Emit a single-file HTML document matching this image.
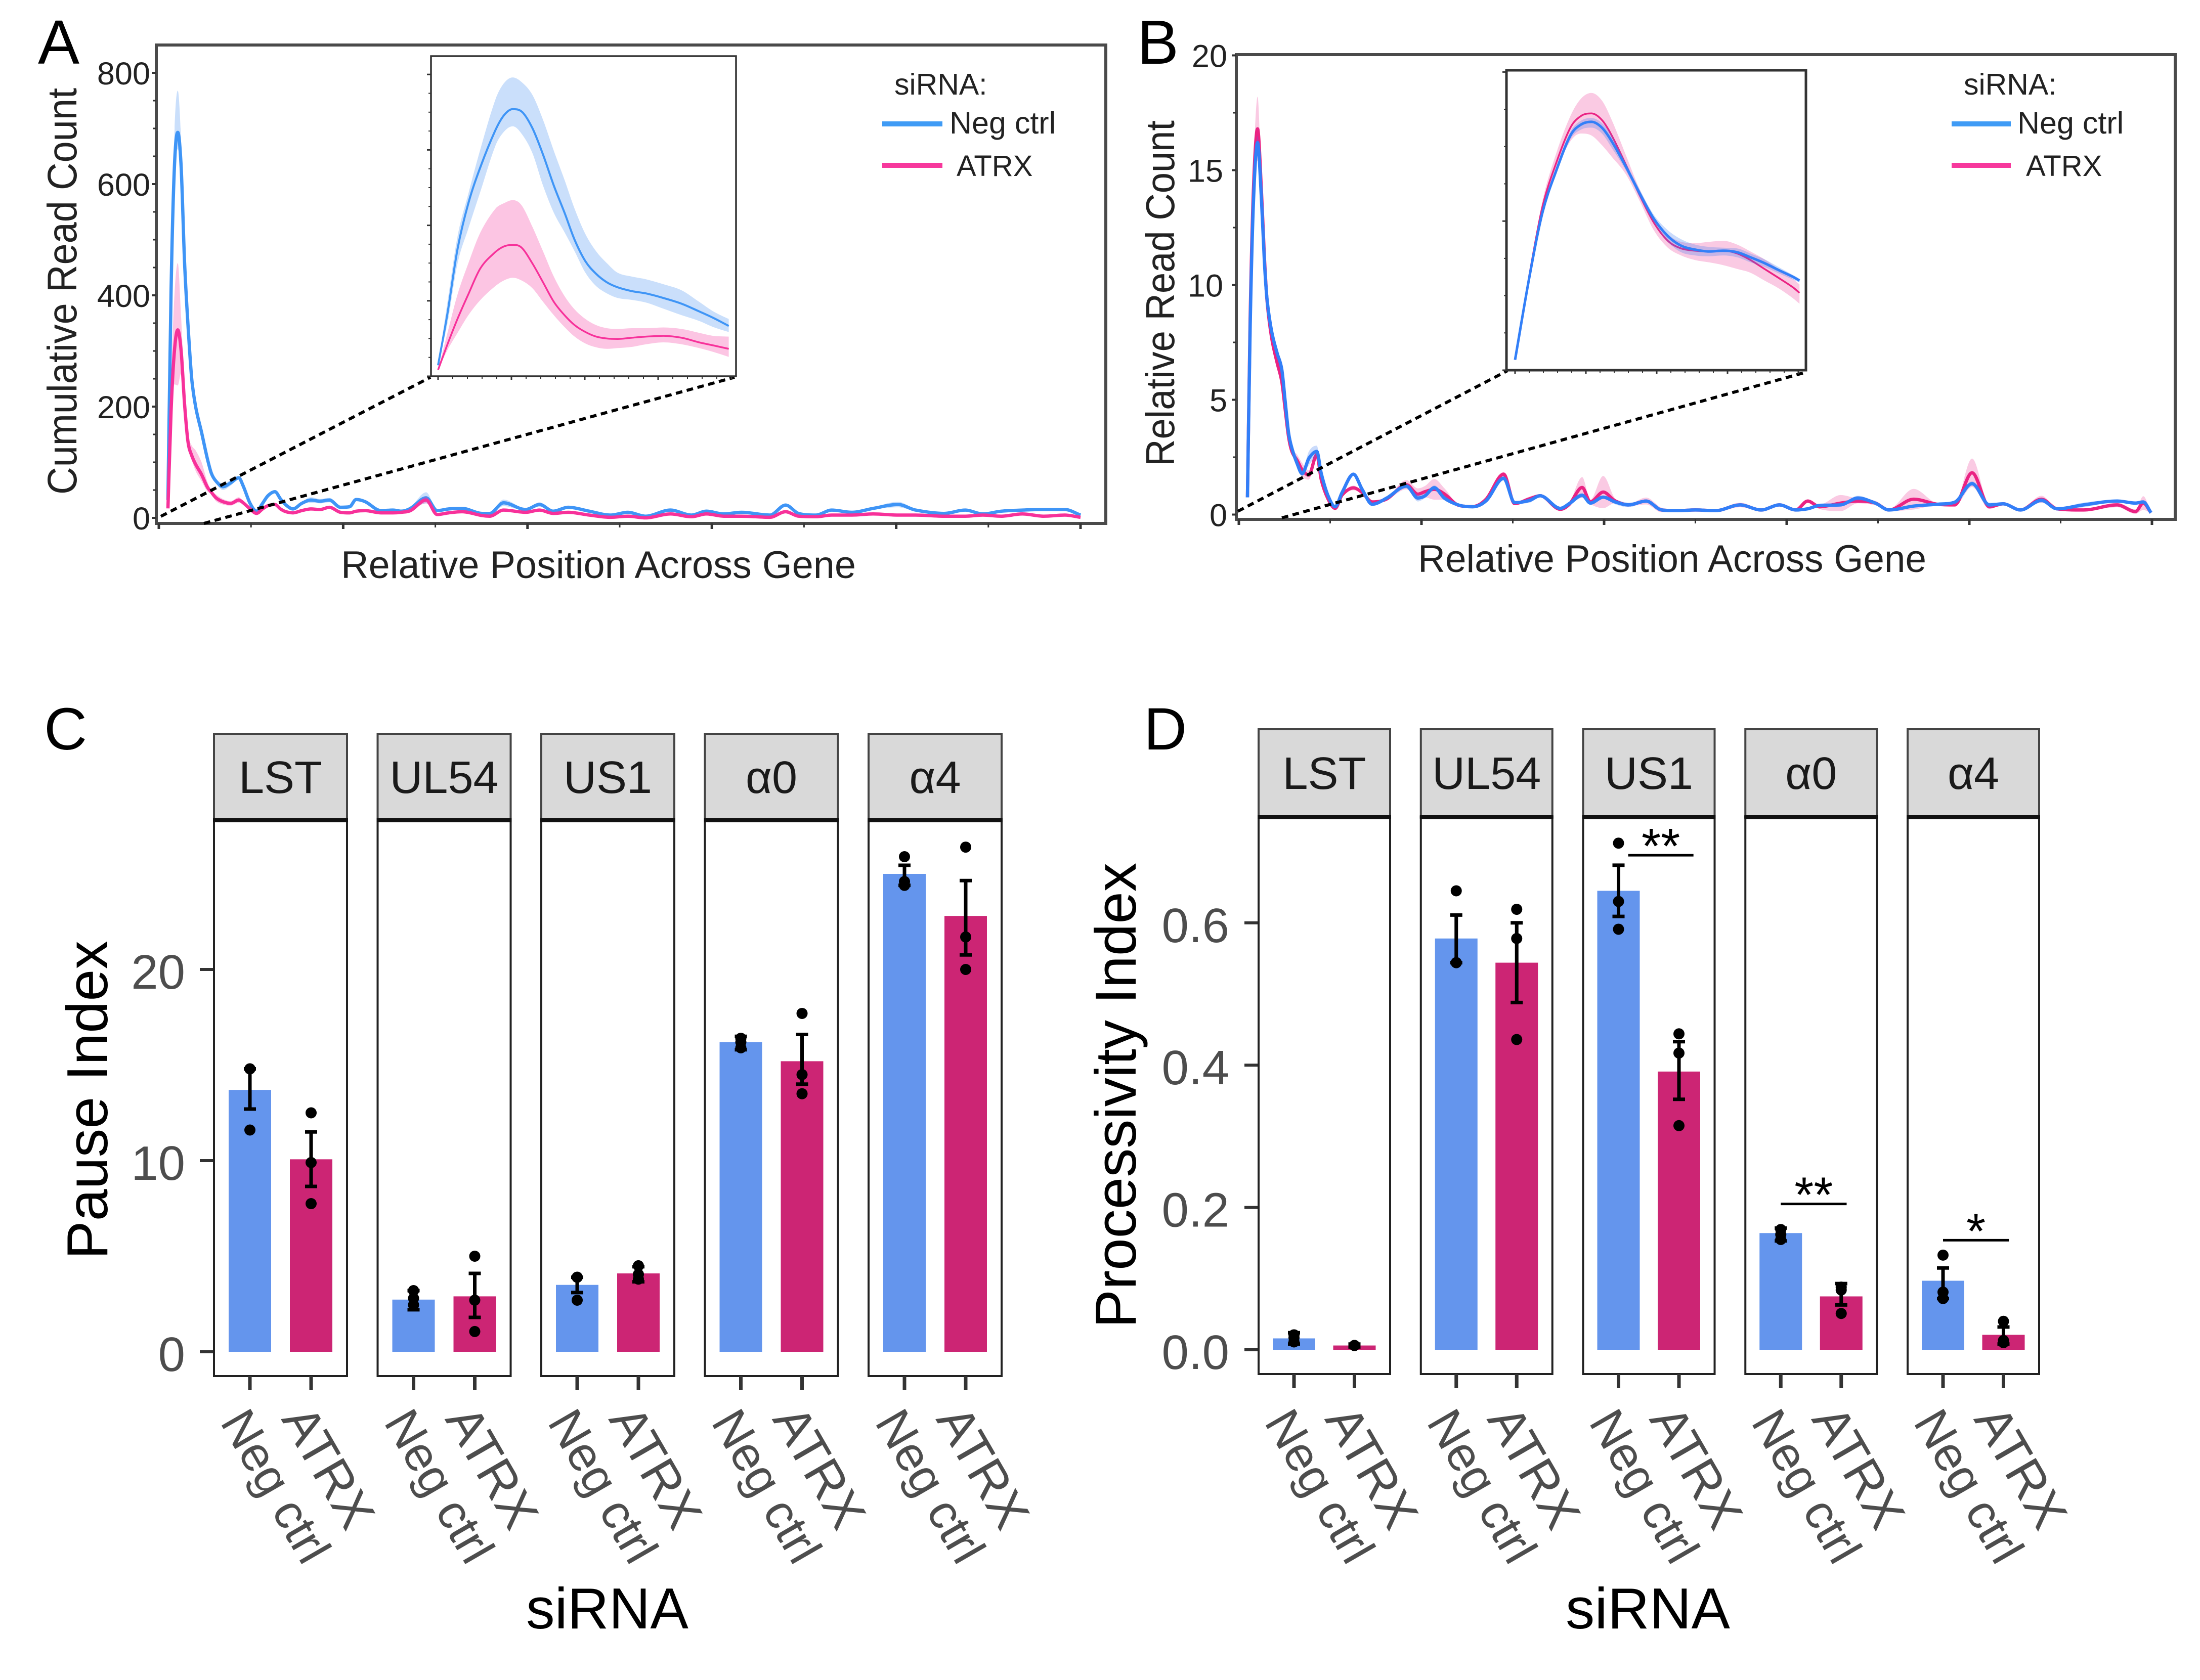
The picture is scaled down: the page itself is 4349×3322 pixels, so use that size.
<!DOCTYPE html>
<html lang="en">
<head>
<meta charset="utf-8">
<title>ATRX siRNA read count, pause index and processivity index</title>
<style>
html,body{margin:0;padding:0;background:#fff;}
svg{display:block;font-family:"Liberation Sans","DejaVu Sans",sans-serif;}
</style>
</head>
<body>
<svg id="figure" xmlns="http://www.w3.org/2000/svg" width="4349" height="3322" viewBox="0 0 4349 3322">
  <rect x="0" y="0" width="4349" height="3322" fill="#fff"/>

  <text x="75" y="126" font-size="123" fill="#000">A</text>
  <text x="2248" y="126" font-size="123" fill="#000">B</text>
  <text x="87" y="1482" font-size="118" fill="#000">C</text>
  <text x="2261" y="1482" font-size="118" fill="#000">D</text>

  <text transform="translate(151,576) rotate(-90)" text-anchor="middle" font-size="82" fill="#222" textLength="804" lengthAdjust="spacingAndGlyphs">Cumulative Read Count</text>
  <text x="674" y="1143" font-size="76" fill="#222" textLength="1018" lengthAdjust="spacingAndGlyphs">Relative Position Across Gene</text>
  <text transform="translate(2321,580) rotate(-90)" text-anchor="middle" font-size="80" fill="#222" textLength="684" lengthAdjust="spacingAndGlyphs">Relative Read Count</text>
  <text x="2803" y="1131" font-size="76" fill="#222" textLength="1005" lengthAdjust="spacingAndGlyphs">Relative Position Across Gene</text>

  <g>
    <text x="1768" y="187" font-size="59" fill="#222">siRNA:</text>
    <line x1="1744" y1="245" x2="1863" y2="245" stroke="#3f9bf5" stroke-width="10"/>
    <text x="1877" y="264" font-size="61" fill="#222">Neg ctrl</text>
    <line x1="1744" y1="327" x2="1863" y2="327" stroke="#f7389c" stroke-width="10"/>
    <text x="1891" y="348" font-size="58" fill="#222">ATRX</text>
  </g>
  <g>
    <text x="3882" y="187" font-size="59" fill="#222">siRNA:</text>
    <line x1="3858" y1="245" x2="3975" y2="245" stroke="#3f9bf5" stroke-width="10"/>
    <text x="3988" y="264" font-size="61" fill="#222">Neg ctrl</text>
    <line x1="3858" y1="327" x2="3975" y2="327" stroke="#f7389c" stroke-width="10"/>
    <text x="4005" y="348" font-size="58" fill="#222">ATRX</text>
  </g>

  <text transform="translate(212,2175) rotate(-90)" text-anchor="middle" font-size="114" fill="#000" textLength="630" lengthAdjust="spacingAndGlyphs">Pause Index</text>
  <text x="1040" y="3220" font-size="114" fill="#000" textLength="321" lengthAdjust="spacingAndGlyphs">siRNA</text>
  <text transform="translate(2245,2166) rotate(-90)" text-anchor="middle" font-size="114" fill="#000" textLength="920" lengthAdjust="spacingAndGlyphs">Processivity Index</text>
  <text x="3095" y="3220" font-size="114" fill="#000" textLength="325" lengthAdjust="spacingAndGlyphs">siRNA</text>
</svg>

<script>
/* ---------- Panel A data (x = % of gene, y = read count) ---------- */
/* inset curves */
const aHeadX = [0.90,1.04,1.19,1.35,1.53,1.75,1.88,2.01,2.14,2.30,2.46,2.62,2.78,2.93,3.09,3.25,3.41,3.57,3.78,3.99,4.25,4.52,4.78,4.99,5.22];
const aNegHead = [30,166,335,454,549,644,684,700,694,651,581,500,429,358,302,269,247,234,224,218,206,191,171,154,133];
const aNegHeadUpper = [30,196,368,479,596,724,768,783,771,738,672,591,515,439,373,328,297,272,262,255,242,226,196,171,151];
const aNegHeadLower = [30,140,297,388,485,603,641,655,636,586,500,429,378,328,272,237,218,206,201,194,178,161,146,130,117];
const aAtrxHead = [18,85,152,216,284,326,341,345,338,297,247,196,161,135,117,105,100,99,102,105,107,102,90,82,73];
const aAtrxHeadUpper = [18,115,216,297,378,439,454,462,449,393,328,262,211,176,151,135,127,125,127,127,129,125,115,107,105];
const aAtrxHeadLower = [18,70,115,161,201,237,252,259,252,232,196,161,130,105,87,77,73,75,78,85,90,85,75,65,52];
/* main-axis peak */
const aPeakX = [0.99,1.32,1.69,2.05,2.42,2.79,3.16,3.57,4.0,4.63,5.24];
const aNegPeak = [32,404,631,693,631,460,347,250,199,154,108];
const aNegPeakUpper = [32,424,691,768,676,475,352,255,204,159,113];
const aNegPeakLower = [32,384,601,663,606,450,342,245,194,149,103];
const aAtrxPeak = [17,190,300,338,300,205,137,112,96,78,56];
const aAtrxPeakUpper = [17,240,400,458,360,230,152,130,121,100,66];
const aAtrxPeakLower = [17,150,240,238,260,190,129,104,84,66,48];
/* rest of gene */
const aTailX = [5.7,6.2,6.95,7.8,8.67,9.16,9.9,10.6,11.25,11.85,12.6,13.2,13.8,14.55,15.5,16.5,17.5,18.5,19.7,20.7,21.4,22.4,24.1,25.4,26.3,27.3,29,30.2,31.45,32.9,35.1,35.9,37.4,39.8,41.3,42.8,44.4,46.7,49,50.9,52.8,55.5,57.8,59.4,61.3,63.2,66.3,68,69.4,71.3,73,75.2,77.5,80.2,82.1,85.2,87.5,89.4,91.4,93.7,96,98.3,100];
const aNegTail = [80,66,56,63,72,57,26,12,26,40,47,34,23,16,26,32,30,32,19,20,33,29,13,14,12,17,36,13,16,17,8,8,27,15,24,12,19,12,5,10,3,14,5,12,7,10,5,23,8,5,14,10,17,24,14,8,14,7,12,14,15,15,5];
const aAtrxTail = [46,36,29,26,32,27,16,8,16,22,24,16,11,9,13,16,15,19,10,9,12,13,9,9,10,13,32,6,9,11,4,3,14,10,14,8,10,5,1,3,0,7,2,7,3,3,1,11,3,2,5,5,7,5,5,3,3,5,3,7,3,5,1];
const aNegTailErr = [3,4,6,5,3,2,1,1,2,3,3,2,1,1,2,5,4,4,3,2,2,2,1,1,1,2,10,2,2,2,1,1,6,2,4,2,3,2,1,2,1,3,1,2,1,2,1,3,1,1,2,1,2,5,2,1,2,1,1,1,2,2,1];
const aAtrxTailErr = [3,6,5,4,5,2,1,1,1,1,1,1,1,1,1,1,1,2,1,1,1,1,1,1,1,1,6,1,1,1,1,1,2,1,2,1,1,1,1,1,1,2,1,1,1,1,1,2,1,1,1,1,1,1,1,1,1,1,1,1,1,1,1];
const aYTickLabels = ['0','200','400','600','800'];
const aYMinorTicks = [50,100,150,250,300,350,450,500,550,650,700,750];

/* ---------- Panel B data (x = % of gene, y = relative read count) ---------- */
/* inset curves */
const bHeadX = [0.94,1.14,1.33,1.53,1.73,1.88,2.03,2.18,2.32,2.52,2.72,2.92,3.12,3.31,3.51,3.71,3.91,4.11,4.30,4.50,4.70,4.90,5.0];
const bNegHead = [0.71,6.0,10.3,13.08,15.35,16.06,16.24,15.86,14.97,13.33,11.56,9.92,8.79,8.16,7.9,7.78,7.83,7.73,7.4,7.02,6.57,6.14,5.88];
const bNegHeadUpper = [0.71,6.06,10.43,13.33,15.6,16.31,16.49,16.16,15.35,13.59,11.82,10.18,9.17,8.58,8.23,8.08,8.03,7.98,7.65,7.27,6.77,6.26,6.01];
const bNegHeadLower = [0.71,5.96,10.18,12.83,15.1,15.73,15.86,15.48,14.54,13.08,11.31,9.67,8.41,7.73,7.52,7.47,7.52,7.40,7.07,6.77,6.36,5.96,5.76];
const bAtrxHead = [0.71,6.14,10.68,13.59,15.86,16.62,16.79,16.36,15.35,13.46,11.44,9.67,8.48,7.98,7.83,7.78,7.83,7.65,7.22,6.64,6.06,5.46,5.08];
const bAtrxHeadUpper = [0.71,6.26,11.06,14.22,16.62,17.75,18.13,17.63,16.36,14.09,11.82,10.05,8.91,8.41,8.33,8.41,8.48,8.23,7.78,7.27,6.64,6.01,5.63];
const bAtrxHeadLower = [0.71,5.88,10.30,13.08,14.97,15.48,15.35,14.72,13.96,12.83,11.06,9.17,8.03,7.52,7.22,7.07,6.89,6.64,6.39,5.88,5.38,4.75,4.37];
/* main-axis peak */
const bPeakX = [0.94,1.24,1.61,2.05,2.47,2.8,3.09,3.59,4.2,4.7,5.07,5.44];
const bNegPeak = [0.75,8.26,13.76,16.2,13.76,11.0,9.36,7.98,7.02,6.33,4.95,3.57];
const bNegPeakUpper = [0.75,8.36,13.96,16.5,13.96,11.1,9.46,8.08,7.12,6.43,5.05,3.67];
const bNegPeakLower = [0.75,8.16,13.56,15.9,13.56,10.9,9.26,7.88,6.92,6.23,4.85,3.47];
const bAtrxPeak = [0.75,8.6,14.3,16.8,14.1,11.2,9.3,7.7,6.6,5.8,4.6,3.4];
const bAtrxPeakUpper = [0.75,8.9,15.1,18.2,14.5,11.5,9.5,7.9,6.75,5.95,4.75,3.55];
const bAtrxPeakLower = [0.75,8.3,13.8,15.4,13.7,10.9,9.1,7.5,6.45,5.65,4.45,3.25];
/* rest of gene */
const bTailX = [5.81,6.4,6.93,7.67,8.53,9.03,9.77,10.55,11.3,12.55,13.5,14.6,16.2,18.35,19.6,20.4,21.4,22.5,24.1,25.6,27.1,29,30.2,31.8,33,35.2,36.2,37.6,38.5,39.9,41.2,42.7,44.6,46.3,48,50,52.2,54.9,57.2,59.2,61,62.3,63.6,65.9,67.8,69.7,71.2,73.9,76.5,78.4,80.3,82.2,83.7,85.6,87.9,89.6,92.5,96.2,98.2,99.05,99.9];
const bNegTail = [2.89,2.2,1.78,2.45,2.75,1.78,0.82,0.34,0.96,1.76,1.1,0.45,0.72,1.24,0.72,0.82,1.17,0.72,0.41,0.34,0.61,1.58,0.52,0.61,0.82,0.27,0.48,0.84,0.5,0.76,0.55,0.42,0.59,0.2,0.17,0.2,0.17,0.42,0.2,0.42,0.2,0.25,0.4,0.42,0.72,0.5,0.2,0.37,0.45,0.54,1.35,0.42,0.47,0.2,0.62,0.25,0.42,0.59,0.5,0.55,0.08];
const bAtrxTail = [2.75,2.35,1.95,1.72,2.61,1.51,0.68,0.27,0.85,1.16,0.96,0.55,0.68,1.3,0.89,1.0,1.1,0.9,0.4,0.35,0.68,1.76,0.48,0.68,0.82,0.23,0.45,1.18,0.55,0.98,0.6,0.42,0.59,0.2,0.17,0.2,0.17,0.42,0.2,0.42,0.2,0.59,0.34,0.5,0.59,0.5,0.2,0.67,0.45,0.42,1.82,0.34,0.47,0.2,0.67,0.25,0.2,0.42,0.13,0.5,0.08];
const bNegTailErr = [0.1,0.15,0.1,0.3,0.25,0.1,0.05,0.05,0.05,0.05,0.05,0.05,0.05,0.1,0.15,0.1,0.1,0.1,0.05,0.05,0.05,0.1,0.05,0.1,0.05,0.05,0.1,0.1,0.05,0.05,0.1,0.1,0.05,0.05,0.05,0.05,0.05,0.05,0.05,0.05,0.05,0.05,0.05,0.05,0.1,0.05,0.05,0.05,0.05,0.05,0.1,0.1,0.05,0.05,0.1,0.05,0.1,0.05,0.05,0.05,0.02];
const bAtrxTailErr = [0.15,0.25,0.3,0.2,0.1,0.1,0.05,0.05,0.05,0.1,0.05,0.05,0.05,0.2,0.25,0.25,0.45,0.25,0.05,0.05,0.05,0.1,0.05,0.1,0.05,0.05,0.05,0.45,0.1,0.7,0.1,0.05,0.15,0.1,0.05,0.05,0.05,0.1,0.05,0.05,0.05,0.05,0.1,0.35,0.1,0.1,0.05,0.45,0.05,0.05,0.62,0.1,0.05,0.05,0.15,0.05,0.05,0.1,0.1,0.3,0.02];
const bYTickLabels = ['0','5','10','15','20'];
const bYMinorTicks = [2.5,7.5,12.5,17.5];

/* ---------- Panels C and D data ---------- */
const geneNames = ['LST','UL54','US1','α0','α4'];
const conditionNames = ['Neg ctrl','ATRX'];

const cYTickLabels = ['0','10','20'];
const cNegValues = [13.7,2.73,3.5,16.2,25.0];
const cAtrxValues = [10.07,2.9,4.1,15.2,22.8];
const cNegHigh = [14.8,3.2,3.9,16.5,25.45];
const cNegLow = [12.7,2.2,3.1,15.8,24.4];
const cAtrxHigh = [11.5,4.1,4.45,16.6,24.65];
const cAtrxLow = [8.65,1.8,3.66,14.0,20.76];
const cNegPoints = [[14.8,14.8,11.6],[3.2,2.8,2.45],[3.9,3.9,2.7],[16.4,16.2,15.9],[25.9,24.6,24.4]];
const cAtrxPoints = [[12.5,9.9,7.75],[5.0,2.7,1.06],[4.5,4.05,3.8],[17.7,14.5,13.5],[26.4,21.7,20.0]];

const dYTickLabels = ['0.0','0.2','0.4','0.6'];
const dNegValues = [0.016,0.578,0.645,0.164,0.097];
const dAtrxValues = [0.006,0.544,0.391,0.075,0.021];
const dNegHigh = [0.024,0.611,0.681,0.171,0.115];
const dNegLow = [0.008,0.544,0.609,0.153,0.072];
const dAtrxHigh = [0.008,0.60,0.433,0.093,0.032];
const dAtrxLow = [0.004,0.488,0.352,0.063,0.008];
const dNegPoints = [[0.021,0.017,0.011],[0.645,0.544,0.544],[0.712,0.63,0.591],[0.169,0.162,0.155],[0.133,0.081,0.072]];
const dAtrxPoints = [[0.006,0.006,0.006],[0.619,0.578,0.436],[0.444,0.417,0.315],[0.088,0.084,0.051],[0.04,0.013,0.01]];
const dSigFacets = [2,3,4];
const dSigLabels = ['**','**','*'];
const dSigLevels = [0.695,0.205,0.154];
const dSigFrom = [1.16,1,1];
const dSigTo = [2.24,2.09,2.09];

/* ---------- helpers ---------- */
const svg = document.getElementById('figure');
const NS = 'http://www.w3.org/2000/svg';
function mk(parent, tag, attrs, text) {
  const el = document.createElementNS(NS, tag);
  for (const k in attrs) el.setAttribute(k, attrs[k]);
  if (text !== undefined) el.textContent = text;
  parent.appendChild(el);
  return el;
}
function smooth(pts, cont) {
  const n = pts.length, s = [], m = [];
  for (let i = 0; i < n - 1; i++) {
    const h = pts[i + 1][0] - pts[i][0];
    s.push(h === 0 ? 0 : (pts[i + 1][1] - pts[i][1]) / h);
  }
  m[0] = s[0]; m[n - 1] = s[n - 2];
  for (let i = 1; i < n - 1; i++) {
    if (s[i - 1] * s[i] <= 0) { m[i] = 0; continue; }
    const central = (pts[i + 1][1] - pts[i - 1][1]) / (pts[i + 1][0] - pts[i - 1][0]);
    const limit = 3 * Math.min(Math.abs(s[i - 1]), Math.abs(s[i]));
    m[i] = Math.sign(central) * Math.min(Math.abs(central), limit);
  }
  let d = (cont ? 'L' : 'M') + pts[0][0].toFixed(1) + ' ' + pts[0][1].toFixed(1);
  for (let i = 0; i < n - 1; i++) {
    const h = pts[i + 1][0] - pts[i][0];
    d += 'C' + (pts[i][0] + h / 3).toFixed(1) + ' ' + (pts[i][1] + m[i] * h / 3).toFixed(1) + ' ' +
      (pts[i + 1][0] - h / 3).toFixed(1) + ' ' + (pts[i + 1][1] - m[i + 1] * h / 3).toFixed(1) + ' ' +
      pts[i + 1][0].toFixed(1) + ' ' + pts[i + 1][1].toFixed(1);
  }
  return d;
}
function drawTrace(g, name, sx, sy, xs, vals, up, lo, color, bandColor, bandOpacity, width) {
  const upper = xs.map((x, i) => [sx(x), sy(up[i])]);
  const lower = xs.map((x, i) => [sx(x), sy(lo[i])]).reverse();
  const band = mk(g, 'path', {d: smooth(upper) + smooth(lower, true) + 'Z', fill: bandColor, 'fill-opacity': bandOpacity, stroke: 'none'});
  
  
  const line = mk(g, 'path', {d: smooth(xs.map((x, i) => [sx(x), sy(vals[i])])), fill: 'none', stroke: color, 'stroke-width': width, 'stroke-linejoin': 'round'});
  
  
}
function plus(a, b) { return a.map((v, i) => v + b[i]); }
function minus(a, b) { return a.map((v, i) => v - b[i]); }

/* ---------- density panels ---------- */
function drawDensity(cfg) {
  const g = mk(svg, 'g', {});
  
  
  const sx = x => cfg.x0 + x * cfg.xk;
  const sy = v => cfg.y0 - v * cfg.yk;
  const frameMain = mk(g, 'rect', {x: cfg.left, y: cfg.top, width: cfg.right - cfg.left, height: cfg.bottom - cfg.top, fill: 'none', stroke: '#4a4a4a', 'stroke-width': 6});
  
  

  cfg.yLabels.forEach(lab => {
    const v = parseFloat(lab);
    const t = mk(g, 'line', {x1: cfg.left - 9, x2: cfg.left, y1: sy(v), y2: sy(v), stroke: '#333', 'stroke-width': 4});
    
    
    const l = mk(g, 'text', {x: cfg.labelRight - (lab.length === 2 && lab[0] === '1' ? 8 : 0), y: sy(v) + 23, 'text-anchor': 'end', 'font-size': 63, fill: '#222'}, lab);
    
    
  });
  cfg.yMinor.forEach(v => {
    const t = mk(g, 'line', {x1: cfg.left - 7, x2: cfg.left, y1: sy(v), y2: sy(v), stroke: '#333', 'stroke-width': 3});
    
    
  });
  for (let p = 0; p <= 100; p += 10) {
    const big = p % 20 === 0;
    const t = mk(g, 'line', {x1: sx(p), x2: sx(p), y1: cfg.bottom, y2: cfg.bottom + (big ? 11 : 8), stroke: '#333', 'stroke-width': big ? 5 : 3});
    
    
  }

  const xs = cfg.peakX.concat(cfg.tailX);
  const negV = cfg.negPeak.concat(cfg.negTail);
  const atrxV = cfg.atrxPeak.concat(cfg.atrxTail);
  const negU = cfg.negPeakU.concat(plus(cfg.negTail, cfg.negErr));
  const negL = cfg.negPeakL.concat(minus(cfg.negTail, cfg.negErr));
  const atrxU = cfg.atrxPeakU.concat(plus(cfg.atrxTail, cfg.atrxErr));
  const atrxL = cfg.atrxPeakL.concat(minus(cfg.atrxTail, cfg.atrxErr));
  if (cfg.negOnTop) {
    drawTrace(g, cfg.id + '-atrx', sx, sy, xs, atrxV, atrxU, atrxL, cfg.atrxColor, cfg.atrxBand, 0.27, cfg.mainWidth);
    drawTrace(g, cfg.id + '-neg-ctrl', sx, sy, xs, negV, negU, negL, cfg.negColor, cfg.negBand, 0.27, cfg.mainWidth);
  } else {
    drawTrace(g, cfg.id + '-neg-ctrl', sx, sy, xs, negV, negU, negL, cfg.negColor, cfg.negBand, 0.27, cfg.mainWidth);
    drawTrace(g, cfg.id + '-atrx', sx, sy, xs, atrxV, atrxU, atrxL, cfg.atrxColor, cfg.atrxBand, 0.27, cfg.mainWidth);
  }

  cfg.dotted.forEach(d => {
    const l = mk(g, 'line', {x1: d[0], y1: d[1], x2: d[2], y2: d[3], stroke: '#000', 'stroke-width': 6, 'stroke-dasharray': '13 9'});
    
    
  });

  /* inset */
  const ig = mk(g, 'g', {});
  
  
  const inset = cfg.inset;
  const bg = mk(ig, 'rect', {x: inset.left, y: inset.top, width: inset.right - inset.left, height: inset.bottom - inset.top, fill: '#fff', stroke: '#333', 'stroke-width': inset.frame});
  
  
  const ix = x => inset.px0 + (x - cfg.headX[0]) * inset.xk;
  const iy = v => inset.y0 - v * inset.yk;
  for (let i = 0; i < 21; i++) {
    const px = inset.px0 + i * inset.xStep;
    if (px > inset.right) break;
    const t = mk(ig, 'line', {x1: px, x2: px, y1: inset.bottom, y2: inset.bottom + (i % 5 === 0 ? 7 : 5), stroke: '#333', 'stroke-width': i % 5 === 0 ? 3 : 2});
    
    
  }
  for (let py = inset.bottom, i = 0; py >= inset.top; py -= inset.yStep, i++) {
    const t = mk(ig, 'line', {x1: inset.left - (i % 4 === 0 ? 8 : 5), x2: inset.left, y1: py, y2: py, stroke: '#333', 'stroke-width': i % 4 === 0 ? 3 : 2});
    
    
  }
  if (cfg.negOnTop) {
    drawTrace(ig, cfg.id + '-inset-atrx', ix, iy, cfg.headX, cfg.atrxHead, cfg.atrxHeadU, cfg.atrxHeadL, cfg.atrxColor, cfg.atrxBand, 0.27, inset.atrxWidth);
    drawTrace(ig, cfg.id + '-inset-neg-ctrl', ix, iy, cfg.headX, cfg.negHead, cfg.negHeadU, cfg.negHeadL, cfg.negColor, cfg.negBand, 0.27, inset.negWidth);
  } else {
    drawTrace(ig, cfg.id + '-inset-neg-ctrl', ix, iy, cfg.headX, cfg.negHead, cfg.negHeadU, cfg.negHeadL, cfg.negColor, cfg.negBand, 0.27, inset.negWidth);
    drawTrace(ig, cfg.id + '-inset-atrx', ix, iy, cfg.headX, cfg.atrxHead, cfg.atrxHeadU, cfg.atrxHeadL, cfg.atrxColor, cfg.atrxBand, 0.27, inset.atrxWidth);
  }
}

drawDensity({
  id: 'panel-a', left: 309, right: 2186, top: 89, bottom: 1035,
  x0: 314, xk: 18.22, y0: 1024, yk: 1.1, labelRight: 297,
  yLabels: aYTickLabels, yMinor: aYMinorTicks,
  peakX: aPeakX, negPeak: aNegPeak, negPeakU: aNegPeakUpper, negPeakL: aNegPeakLower,
  atrxPeak: aAtrxPeak, atrxPeakU: aAtrxPeakUpper, atrxPeakL: aAtrxPeakLower,
  headX: aHeadX, tailX: aTailX,
  negHead: aNegHead, negHeadU: aNegHeadUpper, negHeadL: aNegHeadLower,
  atrxHead: aAtrxHead, atrxHeadU: aAtrxHeadUpper, atrxHeadL: aAtrxHeadLower,
  negTail: aNegTail, atrxTail: aAtrxTail, negErr: aNegTailErr, atrxErr: aAtrxTailErr,
  negColor: '#3f95f6', atrxColor: '#f7319a', negBand: '#3a8af2', atrxBand: '#f52a97',
  mainWidth: 6.5, negOnTop: false,
  dotted: [[318, 1021, 851, 746], [403, 1035, 1452, 746]],
  inset: {left: 852, right: 1455, top: 111, bottom: 744, px0: 866, xk: 133, y0: 745, yk: 0.756, xStep: 29, yStep: 37.3, frame: 3.5, negWidth: 4, atrxWidth: 3.5}
});
drawDensity({
  id: 'panel-b', left: 2444, right: 4300, top: 108, bottom: 1027,
  x0: 2449, xk: 18.05, y0: 1017.5, yk: 45.4, labelRight: 2426,
  yLabels: bYTickLabels, yMinor: bYMinorTicks,
  peakX: bPeakX, negPeak: bNegPeak, negPeakU: bNegPeakUpper, negPeakL: bNegPeakLower,
  atrxPeak: bAtrxPeak, atrxPeakU: bAtrxPeakUpper, atrxPeakL: bAtrxPeakLower,
  headX: bHeadX, tailX: bTailX,
  negHead: bNegHead, negHeadU: bNegHeadUpper, negHeadL: bNegHeadLower,
  atrxHead: bAtrxHead, atrxHeadU: bAtrxHeadUpper, atrxHeadL: bAtrxHeadLower,
  negTail: bNegTail, atrxTail: bAtrxTail, negErr: bNegTailErr, atrxErr: bAtrxTailErr,
  negColor: '#327ff8', atrxColor: '#ea2383', negBand: '#3a7af2', atrxBand: '#ee3a96',
  mainWidth: 6.5, negOnTop: true,
  dotted: [[2447, 1011, 2980, 733], [2534, 1024, 3570, 736]],
  inset: {left: 2978, right: 3570, top: 139, bottom: 732, px0: 2995, xk: 138.5, y0: 733, yk: 30.3, xStep: 28, yStep: 73.7, frame: 5, negWidth: 5, atrxWidth: 3.5}
});

/* ---------- facet bar panels ---------- */
function drawFacets(cfg) {
  const g = mk(svg, 'g', {});
  
  
  const sy = v => cfg.y0 - v * cfg.yk;

  cfg.yLabels.forEach(lab => {
    const v = parseFloat(lab);
    const t = mk(g, 'line', {x1: cfg.firstLeft - 28, x2: cfg.firstLeft, y1: sy(v), y2: sy(v), stroke: '#333', 'stroke-width': 6});
    
    
    const l = mk(g, 'text', {x: cfg.labelRight, y: sy(v) + 38, 'text-anchor': 'end', 'font-size': 96, fill: '#4d4d4d'}, lab);
    
    
  });

  geneNames.forEach((gene, i) => {
    const left = cfg.firstLeft + i * cfg.step;
    const fg = mk(g, 'g', {});
    
    
    const strip = mk(fg, 'rect', {x: left, y: cfg.stripTop, width: cfg.width, height: cfg.panelTop - cfg.stripTop, fill: '#d9d9d9', stroke: '#444', 'stroke-width': 4});
    
    
    const stripText = mk(fg, 'text', {x: left + cfg.width / 2, y: cfg.stripBase, 'text-anchor': 'middle', 'font-size': 90, fill: '#1a1a1a'}, gene);
    
    
    const panel = mk(fg, 'rect', {x: left, y: cfg.panelTop, width: cfg.width, height: cfg.panelBottom - cfg.panelTop, fill: '#fff', stroke: '#222', 'stroke-width': 4});
    
    
    const bar = mk(fg, 'line', {x1: left - 2, x2: left + cfg.width + 2, y1: cfg.panelTop, y2: cfg.panelTop, stroke: '#111', 'stroke-width': 8});
    
    

    [
      {name: conditionNames[0], off: cfg.off0, val: cfg.neg[i], hi: cfg.negHi[i], lo: cfg.negLo[i], pts: cfg.negPts[i], color: '#6495ed', size: 96, lift: 0},
      {name: conditionNames[1], off: cfg.off1, val: cfg.atrx[i], hi: cfg.atrxHi[i], lo: cfg.atrxLo[i], pts: cfg.atrxPts[i], color: '#cc2574', size: 100, lift: 6}
    ].forEach(c => {
      const cx = left + c.off;
      const r = mk(fg, 'rect', {x: cx - 42, y: sy(c.val), width: 84, height: sy(0) - sy(c.val), fill: c.color});
      
      
      const eb = mk(fg, 'path', {d: 'M' + (cx - 12) + ' ' + sy(c.hi) + 'H' + (cx + 12) + 'M' + cx + ' ' + sy(c.hi) + 'V' + sy(c.lo) + 'M' + (cx - 12) + ' ' + sy(c.lo) + 'H' + (cx + 12), fill: 'none', stroke: '#000', 'stroke-width': 7});
      
      
      c.pts.forEach(p => {
        const dot = mk(fg, 'circle', {cx: cx, cy: sy(p), r: 11, fill: '#000'});
        
        
      });
      const tick = mk(fg, 'line', {x1: cx, x2: cx, y1: cfg.panelBottom, y2: cfg.panelBottom + 28, stroke: '#333', 'stroke-width': 7});
      
      
      const ly = cfg.labelY - c.lift;
      const lab = mk(fg, 'text', {x: cx - 60, y: ly, 'font-size': c.size, fill: '#4d4d4d', transform: 'rotate(60 ' + (cx - 60) + ' ' + ly + ')'}, c.name);
      
      
    });
  });

  (cfg.sigFacets || []).forEach((f, i) => {
    const left = cfg.firstLeft + f * cfg.step;
    const catX = c => left + cfg.off0 + (c - 1) * (cfg.off1 - cfg.off0);
    const x1 = catX(cfg.sigFrom[i]), x2 = catX(cfg.sigTo[i]), y = sy(cfg.sigLevels[i]);
    const l = mk(g, 'line', {x1: x1, x2: x2, y1: y, y2: y, stroke: '#000', 'stroke-width': 5});
    
    
    const t = mk(g, 'text', {x: (x1 + x2) / 2, y: y + 16, 'text-anchor': 'middle', 'font-size': 98, fill: '#000'}, cfg.sigLabels[i]);
    
    
  });
}

drawFacets({
  id: 'panel-c', firstLeft: 423, step: 323.5, width: 263, off0: 71, off1: 192,
  stripTop: 1451, stripBase: 1568, panelTop: 1622, panelBottom: 2721, labelY: 2812,
  y0: 2673, yk: 37.8, labelRight: 366, yLabels: cYTickLabels,
  neg: cNegValues, atrx: cAtrxValues, negHi: cNegHigh, negLo: cNegLow, atrxHi: cAtrxHigh, atrxLo: cAtrxLow,
  negPts: cNegPoints, atrxPts: cAtrxPoints
});
drawFacets({
  id: 'panel-d', firstLeft: 2488, step: 320.75, width: 260, off0: 70, off1: 189.5,
  stripTop: 1442, stripBase: 1560, panelTop: 1616, panelBottom: 2717, labelY: 2812,
  y0: 2669, yk: 1407, labelRight: 2430, yLabels: dYTickLabels,
  neg: dNegValues, atrx: dAtrxValues, negHi: dNegHigh, negLo: dNegLow, atrxHi: dAtrxHigh, atrxLo: dAtrxLow,
  negPts: dNegPoints, atrxPts: dAtrxPoints,
  sigFacets: dSigFacets, sigLabels: dSigLabels, sigLevels: dSigLevels, sigFrom: dSigFrom, sigTo: dSigTo
});
</script>
</body>
</html>
